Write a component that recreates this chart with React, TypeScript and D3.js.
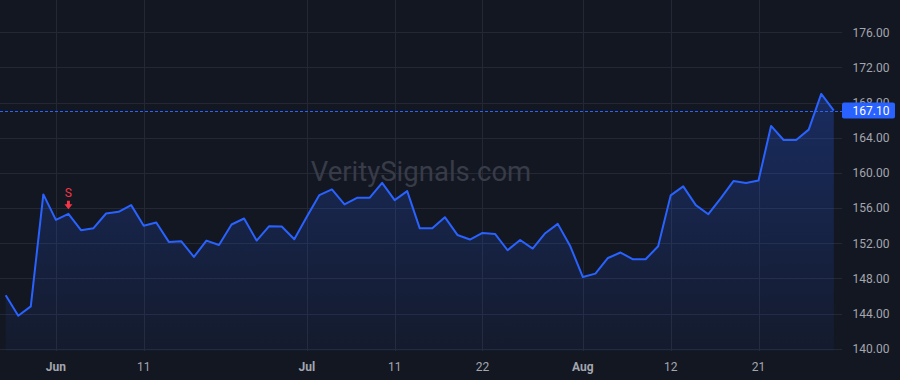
import React from 'react';
import * as d3 from 'd3';

const dates: string[] = [
  '2025-05-27', '2025-05-28', '2025-05-29', '2025-05-30',
  '2025-06-02', '2025-06-03', '2025-06-04', '2025-06-05', '2025-06-06', '2025-06-09', '2025-06-10', '2025-06-11',
  '2025-06-12', '2025-06-13', '2025-06-16', '2025-06-17', '2025-06-18', '2025-06-20', '2025-06-23', '2025-06-24',
  '2025-06-25', '2025-06-26', '2025-06-27', '2025-06-30',
  '2025-07-01', '2025-07-02', '2025-07-03', '2025-07-07', '2025-07-08', '2025-07-09', '2025-07-10', '2025-07-11',
  '2025-07-14', '2025-07-15', '2025-07-16', '2025-07-17', '2025-07-18', '2025-07-21', '2025-07-22', '2025-07-23',
  '2025-07-24', '2025-07-25', '2025-07-28', '2025-07-29', '2025-07-30', '2025-07-31',
  '2025-08-01', '2025-08-04', '2025-08-05', '2025-08-06', '2025-08-07', '2025-08-08', '2025-08-11', '2025-08-12',
  '2025-08-13', '2025-08-14', '2025-08-15', '2025-08-18', '2025-08-19', '2025-08-20', '2025-08-21', '2025-08-22',
  '2025-08-25', '2025-08-26', '2025-08-27', '2025-08-28', '2025-08-29',
];

const prices: number[] = [
  146.08, 143.76, 144.82, 157.56,
  154.66, 155.35, 153.49, 153.72, 155.39, 155.58, 156.34, 154.0,
  154.37, 152.16, 152.23, 150.45, 152.31, 151.81, 154.14, 154.82,
  152.31, 153.95, 153.91, 152.46,
  155.01, 157.48, 158.13, 156.42, 157.17, 157.17, 158.88, 156.91,
  157.94, 153.7, 153.72, 154.97, 152.95, 152.43, 153.18, 153.07,
  151.21, 152.38, 151.4, 153.15, 154.21, 151.66,
  148.16, 148.55, 150.33, 150.95, 150.18, 150.18, 151.66, 157.45,
  158.47, 156.34, 155.31, 157.14, 159.08, 158.85, 159.15, 165.35,
  163.75, 163.75, 164.93, 169.0, 167.1,
];

const priceTicks: number[] = [140, 144, 148, 152, 156, 160, 164, 168, 172, 176];
const timeTickDates: string[] = ['2025-06-02', '2025-06-11', '2025-07-01', '2025-07-11', '2025-07-22', '2025-08-01', '2025-08-12', '2025-08-21'];
const timeTickLabels: string[] = ['Jun', '11', 'Jul', '11', '22', 'Aug', '12', '21'];
const timeTickMajor: boolean[] = [true, false, true, false, false, true, false, false];

const lastPrice = 167.1;
const markerDate = '2025-06-03';
const markerText = 'S';
const watermark = 'VeritySignals.com';

const W = 900;
const H = 380;
const PLOT_W = 842;
const PLOT_H = 351;

const BG = '#131722';
const GRID = '#232834';
const TEXT = '#a3a6ae';
const BLUE = '#2962ff';
const RED = '#f23645';
const FONT = "Roboto, 'Liberation Sans', Arial, sans-serif";

export default function App() {
  const x = d3.scalePoint<string>().domain(dates).range([5.7, 833.8]);
  const y = d3.scaleLinear().domain([140, 176]).range([348.8, 32.3]);

  const pts = dates.map((d, i) => ({ d, v: prices[i] }));
  const line = d3.line<{ d: string; v: number }>().x(p => x(p.d)!).y(p => y(p.v));
  const area = d3.area<{ d: string; v: number }>().x(p => x(p.d)!).y0(PLOT_H).y1(p => y(p.v));

  const maxV = d3.max(prices)!;
  const mi = dates.indexOf(markerDate);
  const mx = x(markerDate)!;
  const my = y(prices[mi]);
  const py = y(lastPrice);

  return (
    <svg width={W} height={H} style={{ position: 'absolute', left: 0, top: 0, display: 'block' }} fontFamily={FONT}>
      <defs>
        <linearGradient id="areaFill" gradientUnits="userSpaceOnUse" x1={0} x2={0} y1={y(maxV)} y2={PLOT_H}>
          <stop offset="0%" stopColor={BLUE} stopOpacity={0.28} />
          <stop offset="100%" stopColor={BLUE} stopOpacity={0.05} />
        </linearGradient>
      </defs>
      <rect x={0} y={0} width={W} height={H} fill={BG} />

      {priceTicks.map(t => (
        <line key={'h' + t} x1={0} x2={PLOT_W} y1={Math.round(y(t)) + 0.5} y2={Math.round(y(t)) + 0.5} stroke={GRID} strokeWidth={1} />
      ))}
      {timeTickDates.map(d => (
        <line key={'v' + d} x1={Math.round(x(d)!) + 0.5} x2={Math.round(x(d)!) + 0.5} y1={0} y2={PLOT_H} stroke={GRID} strokeWidth={1} />
      ))}

      <text x={PLOT_W / 2} y={181} textAnchor="middle" fontSize={27.5} fill="#383c48">{watermark}</text>

      <path d={area(pts)!} fill="url(#areaFill)" />
      <path d={line(pts)!} fill="none" stroke={BLUE} strokeWidth={2} strokeLinejoin="round" />

      <line x1={0} x2={PLOT_W} y1={Math.round(py) + 0.5} y2={Math.round(py) + 0.5} stroke={BLUE} strokeWidth={1.2} strokeDasharray="3 2" shapeRendering="crispEdges" />

      <text x={mx} y={my - 17} textAnchor="middle" fontSize={12} fill={RED}>{markerText}</text>
      <path
        d={`M${mx - 1.5},${my - 13} L${mx + 1.5},${my - 13} L${mx + 1.5},${my - 9.5} L${mx + 4},${my - 9.5} L${mx},${my - 4.5} L${mx - 4},${my - 9.5} L${mx - 1.5},${my - 9.5} Z`}
        fill={RED}
      />

      {priceTicks.map(t => (
        <text key={'pl' + t} x={852.5} y={y(t)} dy="0.35em" fontSize={12} fill={TEXT}>{t.toFixed(2)}</text>
      ))}
      <rect x={PLOT_W} y={py - 8} width={53} height={16} rx={2} fill={BLUE} />
      <text x={852.5} y={py} dy="0.35em" fontSize={12} fill="#ffffff">{lastPrice.toFixed(2)}</text>

      {timeTickDates.map((d, i) => (
        <text key={'tl' + d} x={x(d)!} y={366.5} dy="0.35em" textAnchor="middle" fontSize={12} fill={TEXT} fontWeight={timeTickMajor[i] ? 700 : 400}>
          {timeTickLabels[i]}
        </text>
      ))}
    </svg>
  );
}
